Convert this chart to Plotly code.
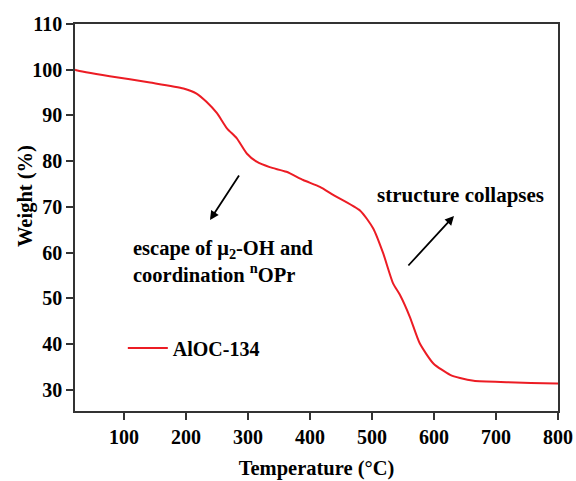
import plotly.graph_objects as go

temperature = [21, 23, 77, 142, 196, 217, 233, 250, 266, 282, 298, 314, 335, 362, 389, 416,
               438, 481, 502, 518, 534, 545, 561, 577, 599, 626, 642, 664, 717, 798, 800]
weight = [100.0, 99.9, 98.6, 97.2, 95.9, 94.8, 93.0, 90.5, 87.2, 85.0, 81.7, 79.9, 78.7, 77.7, 75.9, 74.4,
          72.6, 69.2, 65.3, 59.9, 53.3, 50.8, 46.0, 40.2, 35.8, 33.3, 32.6, 32.0, 31.7, 31.4, 31.4]
series_name = "AlOC-134"
x_ticks = [100, 200, 300, 400, 500, 600, 700, 800]
y_ticks = [30, 40, 50, 60, 70, 80, 90, 100, 110]

FONT = "Liberation Serif"
fig = go.Figure()
fig.add_trace(go.Scatter(x=temperature, y=weight, mode="lines", name=series_name,
                         line=dict(color="#ec1c24", width=2, shape="spline", smoothing=0.6)))

axis_common = dict(showline=True, linecolor="#333333", linewidth=1.5, mirror=True,
                   ticks="outside", ticklen=7, tickwidth=1.5, tickcolor="#333333",
                   showgrid=False, zeroline=False, automargin=False,
                   tickfont=dict(family=FONT, size=20, color="black", weight="bold"))
fig.update_xaxes(range=[21, 800], tickvals=x_ticks,
                 title=dict(text="Temperature (°C)", font=dict(family=FONT, size=20.5, color="black", weight="bold"),
                            standoff=14),
                 **axis_common)
fig.update_yaxes(range=[25.4, 110], tickvals=y_ticks, **axis_common)

# y-axis title placed as an annotation (it sits above the plot centre in the reference)
fig.add_annotation(x=(25 - 75) / 483, y=(411 - 196) / 387, xref="paper", yref="paper",
                   xanchor="center", yanchor="middle", textangle=-90, showarrow=False,
                   text="Weight (%)", font=dict(family=FONT, size=20.5, color="black", weight="bold"))


def px_to_data(px, py):
    return 21 + (px - 75) / (483 / 779), 110 - (py - 24) / (387 / 84.6)


hx, hy = px_to_data(210, 220)
tx, ty = px_to_data(240, 174)
fig.add_annotation(x=hx, y=hy, ax=tx, ay=ty, xref="x", yref="y", axref="x", ayref="y",
                   text="", showarrow=True, arrowhead=2, arrowsize=1, arrowwidth=1.8, arrowcolor="black")
hx, hy = px_to_data(454, 216)
tx, ty = px_to_data(407, 267)
fig.add_annotation(x=hx, y=hy, ax=tx, ay=ty, xref="x", yref="y", axref="x", ayref="y",
                   text="", showarrow=True, arrowhead=2, arrowsize=1, arrowwidth=1.8, arrowcolor="black")

lx, ly = px_to_data(131, 261)
fig.add_annotation(x=lx, y=ly, xref="x", yref="y", xanchor="left", yanchor="middle", showarrow=False, align="left",
                   text="escape of μ<sub>2</sub>-OH and<br>coordination <sup>n</sup>OPr",
                   font=dict(family=FONT, size=20.5, color="black", weight="bold"))
sx, sy = px_to_data(375, 195)
fig.add_annotation(x=sx, y=sy, xref="x", yref="y", xanchor="left", yanchor="middle", showarrow=False,
                   text="structure collapses", font=dict(family=FONT, size=21, color="black", weight="bold"))

fig.update_layout(
    width=576, height=481,
    margin=dict(l=75, r=18, t=24, b=70),
    paper_bgcolor="white", plot_bgcolor="white",
    showlegend=True,
    legend=dict(x=0.099, y=0.163, xanchor="left", yanchor="middle", bgcolor="rgba(0,0,0,0)",
                font=dict(family=FONT, size=20, color="black", weight="bold"), itemwidth=40),
)
fig.write_html("out.html")
